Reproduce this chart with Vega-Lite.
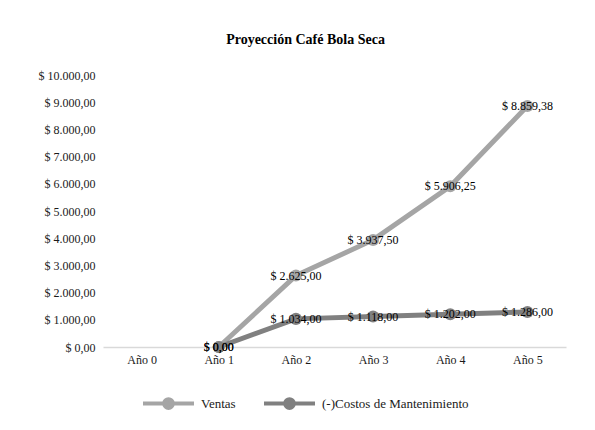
{
  "$schema": "https://vega.github.io/schema/vega-lite/v6.json",
  "width": 463,
  "height": 272,
  "padding": {"left": 38, "top": 33, "right": 27, "bottom": 10},
  "background": "white",
  "config": {
    "locale": {"number": {"decimal": ",", "thousands": ".", "grouping": [3], "currency": ["$ ", ""]}},
    "font": "Liberation Serif",
    "axis": {"labelFont": "Liberation Serif", "titleFont": "Liberation Serif"},
    "legend": {"labelFont": "Liberation Serif", "titleFont": "Liberation Serif"},
    "text": {"font": "Liberation Serif"},
    "view": {"stroke": null}
  },
  "title": {"text": "Proyección Café Bola Seca", "fontSize": 14, "fontWeight": "bold", "font": "Liberation Serif", "color": "black", "offset": 22, "dx": -29},
  "data": {"values": [
    {"anio": "Año 1", "serie": "Ventas", "valor": 0},
    {"anio": "Año 2", "serie": "Ventas", "valor": 2625},
    {"anio": "Año 3", "serie": "Ventas", "valor": 3937.5},
    {"anio": "Año 4", "serie": "Ventas", "valor": 5906.25},
    {"anio": "Año 5", "serie": "Ventas", "valor": 8859.38},
    {"anio": "Año 1", "serie": "(-)Costos de Mantenimiento", "valor": 0},
    {"anio": "Año 2", "serie": "(-)Costos de Mantenimiento", "valor": 1034},
    {"anio": "Año 3", "serie": "(-)Costos de Mantenimiento", "valor": 1118},
    {"anio": "Año 4", "serie": "(-)Costos de Mantenimiento", "valor": 1202},
    {"anio": "Año 5", "serie": "(-)Costos de Mantenimiento", "valor": 1286}
  ]},
  "encoding": {
    "x": {
      "field": "anio", "type": "nominal", "sort": null,
      "scale": {"domain": ["Año 0", "Año 1", "Año 2", "Año 3", "Año 4", "Año 5"], "padding": 0.5},
      "axis": {"title": null, "labelAngle": 0, "ticks": false, "domainColor": "#d9d9d9", "domainWidth": 1.5, "labelFontSize": 12, "labelFont": "Liberation Serif", "labelColor": "#1a1a1a", "labelPadding": 7, "grid": false}
    },
    "y": {
      "field": "valor", "type": "quantitative",
      "scale": {"domain": [0, 10000], "nice": false},
      "axis": {"title": null, "values": [0, 1000, 2000, 3000, 4000, 5000, 6000, 7000, 8000, 9000, 10000], "format": "$,.2f", "domain": false, "ticks": false, "grid": false, "labelFontSize": 12, "labelFont": "Liberation Serif", "labelColor": "#1a1a1a", "labelPadding": 8}
    }
  },
  "layer": [
    {
      "mark": {"type": "line", "strokeWidth": 5, "point": {"filled": true, "size": 145, "opacity": 1}},
      "encoding": {
        "color": {
          "field": "serie", "type": "nominal",
          "scale": {"domain": ["Ventas", "(-)Costos de Mantenimiento"], "range": ["#a5a5a5", "#808080"]},
          "legend": {
            "title": null, "orient": "none", "direction": "horizontal", "legendX": 38, "legendY": 301,
            "symbolType": "M-1,0L1,0M-0.17,0A0.17,0.17,0,1,1,0.17,0A0.17,0.17,0,1,1,-0.17,0Z",
            "symbolSize": 2600, "symbolStrokeWidth": 4,
            "labelFontSize": 13, "labelFont": "Liberation Serif", "labelColor": "#1a1a1a", "labelOffset": 5, "columnPadding": 20,
            "encode": {"symbols": {"update": {"fill": {"field": "value", "scale": "color"}, "fillOpacity": {"value": 1}}}}
          }
        }
      }
    },
    {
      "mark": {"type": "text", "fontSize": 12, "color": "black", "font": "Liberation Serif"},
      "encoding": {
        "detail": {"field": "serie"},
        "text": {"field": "valor", "type": "quantitative", "format": "$,.2f"}
      }
    }
  ]
}
